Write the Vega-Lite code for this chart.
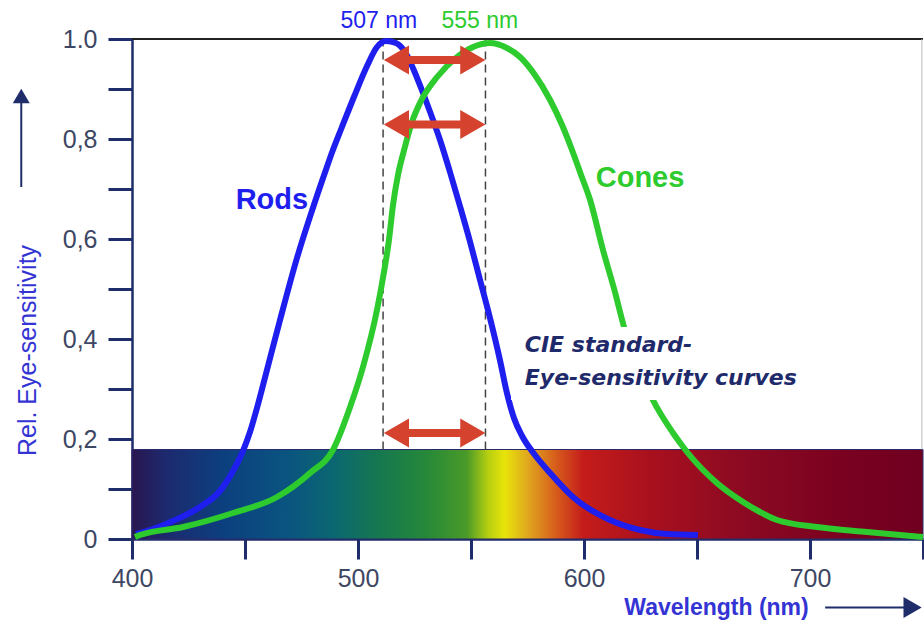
{
  "$schema": "https://vega.github.io/schema/vega-lite/v6.json",
  "autosize": {"type": "none"},
  "width": 791,
  "height": 500,
  "padding": {"left": 132, "top": 39, "right": 1, "bottom": 81},
  "background": "white",
  "config": {"font": "Liberation Sans", "view": {"stroke": null}},
  "datasets": {
    "curves": [
      {"series": "Rods", "wl": 401.8, "v": 0.010},
      {"series": "Rods", "wl": 408.0, "v": 0.018},
      {"series": "Rods", "wl": 418.1, "v": 0.036},
      {"series": "Rods", "wl": 430.1, "v": 0.064},
      {"series": "Rods", "wl": 438.9, "v": 0.096},
      {"series": "Rods", "wl": 444.7, "v": 0.136},
      {"series": "Rods", "wl": 449.1, "v": 0.176},
      {"series": "Rods", "wl": 452.2, "v": 0.214},
      {"series": "Rods", "wl": 455.3, "v": 0.262},
      {"series": "Rods", "wl": 458.8, "v": 0.322},
      {"series": "Rods", "wl": 465.5, "v": 0.438},
      {"series": "Rods", "wl": 473.0, "v": 0.562},
      {"series": "Rods", "wl": 479.6, "v": 0.656},
      {"series": "Rods", "wl": 485.0, "v": 0.728},
      {"series": "Rods", "wl": 488.9, "v": 0.778},
      {"series": "Rods", "wl": 492.9, "v": 0.824},
      {"series": "Rods", "wl": 498.2, "v": 0.884},
      {"series": "Rods", "wl": 504.0, "v": 0.946},
      {"series": "Rods", "wl": 508.4, "v": 0.984},
      {"series": "Rods", "wl": 512.4, "v": 0.996},
      {"series": "Rods", "wl": 516.8, "v": 0.992},
      {"series": "Rods", "wl": 520.8, "v": 0.974},
      {"series": "Rods", "wl": 524.3, "v": 0.942},
      {"series": "Rods", "wl": 527.9, "v": 0.902},
      {"series": "Rods", "wl": 531.9, "v": 0.854},
      {"series": "Rods", "wl": 536.3, "v": 0.798},
      {"series": "Rods", "wl": 540.7, "v": 0.734},
      {"series": "Rods", "wl": 545.1, "v": 0.666},
      {"series": "Rods", "wl": 549.6, "v": 0.594},
      {"series": "Rods", "wl": 554.0, "v": 0.518},
      {"series": "Rods", "wl": 558.4, "v": 0.442},
      {"series": "Rods", "wl": 562.8, "v": 0.358},
      {"series": "Rods", "wl": 565.9, "v": 0.292},
      {"series": "Rods", "wl": 569.0, "v": 0.242},
      {"series": "Rods", "wl": 572.6, "v": 0.206},
      {"series": "Rods", "wl": 578.3, "v": 0.168},
      {"series": "Rods", "wl": 585.0, "v": 0.132},
      {"series": "Rods", "wl": 595.1, "v": 0.084},
      {"series": "Rods", "wl": 611.5, "v": 0.038},
      {"series": "Rods", "wl": 624.8, "v": 0.018},
      {"series": "Rods", "wl": 636.7, "v": 0.010},
      {"series": "Rods", "wl": 650.4, "v": 0.008},
      {"series": "Cones", "wl": 401.3, "v": 0.004},
      {"series": "Cones", "wl": 403.5, "v": 0.008},
      {"series": "Cones", "wl": 422.6, "v": 0.024},
      {"series": "Cones", "wl": 444.7, "v": 0.052},
      {"series": "Cones", "wl": 464.2, "v": 0.084},
      {"series": "Cones", "wl": 478.8, "v": 0.132},
      {"series": "Cones", "wl": 488.9, "v": 0.178},
      {"series": "Cones", "wl": 496.5, "v": 0.264},
      {"series": "Cones", "wl": 502.2, "v": 0.344},
      {"series": "Cones", "wl": 508.4, "v": 0.458},
      {"series": "Cones", "wl": 511.5, "v": 0.534},
      {"series": "Cones", "wl": 513.7, "v": 0.598},
      {"series": "Cones", "wl": 515.5, "v": 0.668},
      {"series": "Cones", "wl": 517.7, "v": 0.728},
      {"series": "Cones", "wl": 520.4, "v": 0.778},
      {"series": "Cones", "wl": 523.9, "v": 0.834},
      {"series": "Cones", "wl": 527.4, "v": 0.872},
      {"series": "Cones", "wl": 535.0, "v": 0.924},
      {"series": "Cones", "wl": 543.8, "v": 0.964},
      {"series": "Cones", "wl": 550.9, "v": 0.984},
      {"series": "Cones", "wl": 558.4, "v": 0.992},
      {"series": "Cones", "wl": 565.9, "v": 0.982},
      {"series": "Cones", "wl": 571.7, "v": 0.964},
      {"series": "Cones", "wl": 578.3, "v": 0.928},
      {"series": "Cones", "wl": 585.0, "v": 0.878},
      {"series": "Cones", "wl": 590.3, "v": 0.828},
      {"series": "Cones", "wl": 594.7, "v": 0.778},
      {"series": "Cones", "wl": 598.7, "v": 0.728},
      {"series": "Cones", "wl": 602.7, "v": 0.678},
      {"series": "Cones", "wl": 608.4, "v": 0.578},
      {"series": "Cones", "wl": 613.7, "v": 0.494},
      {"series": "Cones", "wl": 617.7, "v": 0.424},
      {"series": "Cones", "wl": 630.5, "v": 0.278},
      {"series": "Cones", "wl": 639.4, "v": 0.212},
      {"series": "Cones", "wl": 645.6, "v": 0.174},
      {"series": "Cones", "wl": 658.8, "v": 0.112},
      {"series": "Cones", "wl": 669.0, "v": 0.078},
      {"series": "Cones", "wl": 677.9, "v": 0.054},
      {"series": "Cones", "wl": 685.4, "v": 0.038},
      {"series": "Cones", "wl": 703.1, "v": 0.024},
      {"series": "Cones", "wl": 725.2, "v": 0.014},
      {"series": "Cones", "wl": 750.0, "v": 0.004}
    ],
    "band": [{"wl": 400, "wl2": 750, "v": 0, "v2": 0.179}],
    "peaks": [{"wl": 511.1, "v": 0.179, "v2": 1}, {"wl": 556.4, "v": 0.179, "v2": 1}],
    "shifts": [{"v": 0.958}, {"v": 0.829}, {"v": 0.212}],
    "peakLabels": [
      {"text": "507 nm", "series": "Rods", "wl": 509.2, "v": 1.037},
      {"text": "555 nm", "series": "Cones", "wl": 553.9, "v": 1.037}
    ],
    "curveLabels": [
      {"text": "Rods", "series": "Rods", "wl": 461.9, "v": 0.679},
      {"text": "Cones", "series": "Cones", "wl": 624.8, "v": 0.723}
    ],
    "note": [
      {"text": "CIE standard-", "wl": 573.8, "v": 0.388},
      {"text": "Eye-sensitivity curves", "wl": 573.8, "v": 0.322}
    ],
    "one": [{}]
  },
  "layer": [
    {
      "data": {"name": "band"},
      "mark": {
        "type": "rect",
        "stroke": "#2b2b6b",
        "strokeWidth": 1,
        "fill": {
          "gradient": "linear", "x1": 0, "x2": 1, "y1": 0, "y2": 0,
          "stops": [
            {"offset": 0, "color": "#2a1650"},
            {"offset": 0.043, "color": "#1d2a6e"},
            {"offset": 0.114, "color": "#0c3f7f"},
            {"offset": 0.2, "color": "#0a5580"},
            {"offset": 0.257, "color": "#0b6870"},
            {"offset": 0.314, "color": "#16784e"},
            {"offset": 0.371, "color": "#25883a"},
            {"offset": 0.423, "color": "#4a9a28"},
            {"offset": 0.451, "color": "#b8d010"},
            {"offset": 0.471, "color": "#e8e40a"},
            {"offset": 0.5, "color": "#e0a81e"},
            {"offset": 0.537, "color": "#d65a1c"},
            {"offset": 0.571, "color": "#c41c1a"},
            {"offset": 0.657, "color": "#a8101e"},
            {"offset": 0.771, "color": "#8c0a22"},
            {"offset": 0.914, "color": "#780020"},
            {"offset": 1, "color": "#700020"}
          ]
        }
      },
      "encoding": {
        "x": {
          "field": "wl", "type": "quantitative",
          "scale": {"domain": [400, 750], "nice": false, "zero": false},
          "axis": {
            "values": [400, 450, 500, 550, 600, 650, 700, 750],
            "labelExpr": "datum.value % 100 == 0 && datum.value < 750 ? datum.label : ''",
            "labelFlush": false,
            "labelFontSize": 25, "labelColor": "#3d4663", "labelPadding": 7,
            "tickSize": 20, "tickWidth": 3, "tickColor": "#1f2d6b",
            "domainColor": "#1f2d6b", "domainWidth": 2.5, "grid": false,
            "title": "Wavelength (nm)", "titleFontSize": 23, "titleFontWeight": "bold",
            "titleColor": "#3434d4", "titleX": 584, "titleY": 68,
            "titleAlign": "center", "titleBaseline": "middle"
          }
        },
        "x2": {"field": "wl2"},
        "y": {
          "field": "v", "type": "quantitative",
          "scale": {"domain": [0, 1], "nice": false},
          "axis": {
            "values": [0, 0.1, 0.2, 0.3, 0.4, 0.5, 0.6, 0.7, 0.8, 0.9, 1],
            "labelExpr": "datum.value == 0 ? '0' : (datum.value == 1 ? '1.0' : (round(datum.value * 10) % 2 == 0 ? replace(format(datum.value, '.1f'), '.', ',') : ''))",
            "labelFlush": false,
            "labelFontSize": 25, "labelColor": "#3d4663", "labelPadding": 11,
            "tickSize": 24, "tickWidth": 3, "tickColor": "#1f2d6b",
            "domainColor": "#1f2d6b", "domainWidth": 2.5, "grid": false,
            "title": "Rel. Eye-sensitivity", "titleFontSize": 25, "titleFontWeight": "normal",
            "titleColor": "#3434d4", "titleX": -105, "titleY": 311, "titleAngle": -90,
            "titleAlign": "center", "titleBaseline": "middle"
          }
        },
        "y2": {"field": "v2"}
      }
    },
    {
      "data": {"name": "peaks"},
      "mark": {"type": "rule", "color": "#444444", "strokeWidth": 1.5, "strokeDash": [8, 5]},
      "encoding": {
        "x": {"field": "wl", "type": "quantitative"},
        "y": {"field": "v", "type": "quantitative"},
        "y2": {"field": "v2"}
      }
    },
    {
      "data": {"name": "one"},
      "mark": {"type": "rule", "color": "#222222", "strokeWidth": 2},
      "encoding": {
        "x": {"datum": 400},
        "x2": {"datum": 750},
        "y": {"datum": 1}
      }
    },
    {
      "data": {"name": "one"},
      "mark": {"type": "rule", "color": "#bbbbbb", "strokeWidth": 1},
      "encoding": {
        "x": {"datum": 749.5},
        "y": {"datum": 0.179},
        "y2": {"datum": 1}
      }
    },
    {
      "data": {"name": "curves"},
      "mark": {"type": "line", "strokeWidth": 6, "interpolate": "monotone"},
      "encoding": {
        "x": {"field": "wl", "type": "quantitative"},
        "y": {"field": "v", "type": "quantitative"},
        "color": {
          "field": "series", "type": "nominal",
          "scale": {"domain": ["Rods", "Cones"], "range": ["#1e1eee", "#2ecb2e"]},
          "legend": null
        },
        "order": {"field": "wl", "type": "quantitative"}
      }
    },
    {
      "data": {"name": "one"},
      "mark": {"type": "rect", "fill": "white"},
      "encoding": {
        "x": {"datum": 567.7},
        "x2": {"datum": 690},
        "y": {"datum": 0.278},
        "y2": {"datum": 0.424}
      }
    },
    {
      "data": {"name": "peakLabels"},
      "mark": {"type": "text", "fontSize": 23, "align": "center", "baseline": "middle"},
      "encoding": {
        "x": {"field": "wl", "type": "quantitative"},
        "y": {"field": "v", "type": "quantitative"},
        "text": {"field": "text"},
        "color": {
          "field": "series", "type": "nominal",
          "scale": {"domain": ["Rods", "Cones"], "range": ["#3b3bd9", "#3f9e4a"]},
          "legend": null
        }
      }
    },
    {
      "data": {"name": "curveLabels"},
      "mark": {"type": "text", "fontSize": 29, "fontWeight": "bold", "align": "center", "baseline": "middle"},
      "encoding": {
        "x": {"field": "wl", "type": "quantitative"},
        "y": {"field": "v", "type": "quantitative"},
        "text": {"field": "text"},
        "color": {
          "field": "series", "type": "nominal",
          "scale": {"domain": ["Rods", "Cones"], "range": ["#2323e0", "#45c845"]},
          "legend": null
        }
      }
    },
    {
      "data": {"name": "note"},
      "mark": {"type": "text", "font": "DejaVu Sans", "fontSize": 22, "fontWeight": "bold", "fontStyle": "italic", "align": "left", "baseline": "middle", "color": "#1f2a6b"},
      "encoding": {
        "x": {"field": "wl", "type": "quantitative"},
        "y": {"field": "v", "type": "quantitative"},
        "text": {"field": "text"}
      }
    },
    {
      "data": {"name": "shifts"},
      "mark": {"type": "rule", "color": "#d5432f", "strokeWidth": 8},
      "encoding": {
        "x": {"datum": 518},
        "x2": {"datum": 550},
        "y": {"field": "v", "type": "quantitative"}
      }
    },
    {
      "data": {"name": "shifts"},
      "mark": {"type": "point", "shape": "triangle-left", "size": 841, "filled": true, "opacity": 1, "color": "#d5432f"},
      "encoding": {
        "x": {"datum": 517},
        "y": {"field": "v", "type": "quantitative"}
      }
    },
    {
      "data": {"name": "shifts"},
      "mark": {"type": "point", "shape": "triangle-right", "size": 841, "filled": true, "opacity": 1, "color": "#d5432f"},
      "encoding": {
        "x": {"datum": 550.8},
        "y": {"field": "v", "type": "quantitative"}
      }
    },
    {
      "data": {"name": "one"},
      "mark": {"type": "rule", "color": "#1f2d6b", "strokeWidth": 2},
      "encoding": {
        "x": {"datum": 351},
        "y": {"datum": 0.704},
        "y2": {"datum": 0.878}
      }
    },
    {
      "data": {"name": "one"},
      "mark": {"type": "point", "shape": "triangle-up", "size": 289, "filled": true, "opacity": 1, "color": "#1f2d6b"},
      "encoding": {
        "x": {"datum": 351},
        "y": {"datum": 0.886}
      }
    },
    {
      "data": {"name": "one"},
      "mark": {"type": "rule", "color": "#1f2d6b", "strokeWidth": 2},
      "encoding": {
        "x": {"datum": 706.7},
        "x2": {"datum": 742.3},
        "y": {"datum": -0.137}
      }
    },
    {
      "data": {"name": "one"},
      "mark": {"type": "point", "shape": "triangle-right", "size": 441, "filled": true, "opacity": 1, "color": "#1f2d6b"},
      "encoding": {
        "x": {"datum": 745.4},
        "y": {"datum": -0.137}
      }
    }
  ]
}
